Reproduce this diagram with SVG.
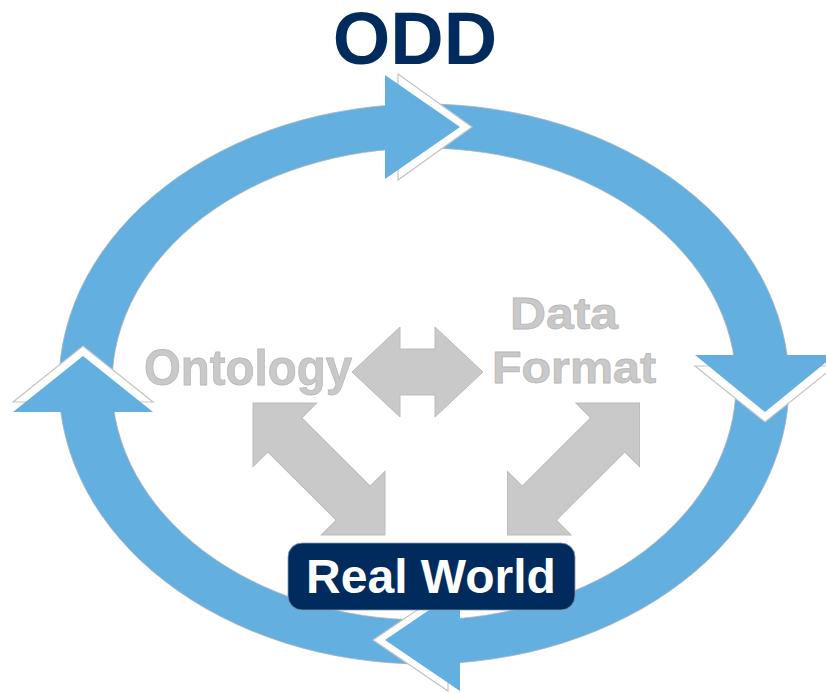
<svg xmlns="http://www.w3.org/2000/svg" width="826" height="693" viewBox="0 0 826 693">
<style>
.ring{fill:#62afe0;fill-rule:evenodd;stroke:#a9b4bd;stroke-width:0.8}
.ghost{fill:#ffffff;stroke:#c4c4c4;stroke-width:1.2}
.head{fill:#62afe0}
.garrow{fill:#c9c9c9;stroke:#bcbcbc;stroke-width:1}
.gtext{font-family:"Liberation Sans",Arial,sans-serif;font-weight:bold;fill:#c9c9c9;stroke:#b8b8b8;stroke-width:0.8}
</style>
<defs>
<path id="dh" d="M-65.5,0 L-17.5,-45 L-17.5,-23 L17.5,-23 L17.5,-45 L65.5,0 L17.5,45 L17.5,23 L-17.5,23 L-17.5,45 Z"/>
<path id="dd" d="M-93.35,0 L-48.35,-45 L-48.35,-24 L48.35,-24 L48.35,-45 L93.35,0 L48.35,45 L48.35,24 L-48.35,24 L-48.35,45 Z"/>
</defs>
<g id="cycle">
<path class="ring" d="M59,384 A365,280 0 1,1 789,384 A365,280 0 1,1 59,384 Z M112,384 A312,236 0 1,0 736,384 A312,236 0 1,0 112,384 Z"/>
<polygon class="ghost" points="398,74 472,127 398,180"/>
<polygon class="ghost" points="695,366 765,422 835,366"/>
<polygon class="ghost" points="448,589 373,640 448,691"/>
<polygon class="ghost" points="13,402 83,346 153,402"/>
<polygon class="head" points="385,75 460,127 385,179"/>
<polygon class="head" points="695,355 765,412 835,355"/>
<polygon class="head" points="460,589 385,640 460,691"/>
<polygon class="head" points="13,412 83,356 153,412"/>
</g>
<g id="title">
<text x="415" y="64" text-anchor="middle" font-family="Liberation Sans, Arial, sans-serif" font-weight="bold" font-size="74" fill="#002b5c">ODD</text>
</g>
<g id="connectors">
<use href="#dh" class="garrow" transform="translate(417.5,372)"/>
<use href="#dd" class="garrow" transform="translate(319,469) rotate(45)"/>
<use href="#dd" class="garrow" transform="translate(573.5,469) rotate(-45)"/>
</g>
<g id="ontology">
<text class="gtext" x="144" y="385" font-size="50" textLength="208" lengthAdjust="spacingAndGlyphs">Ontology</text>
</g>
<g id="dataformat">
<text class="gtext" x="510" y="329" font-size="45" textLength="108" lengthAdjust="spacingAndGlyphs">Data</text>
<text class="gtext" x="492" y="383" font-size="45" textLength="164" lengthAdjust="spacingAndGlyphs">Format</text>
</g>
<g id="realworld">
<rect x="288" y="543" width="287" height="67" rx="14" ry="14" fill="#002b5c" stroke="#8a9bb0" stroke-width="0.8"/>
<text x="431" y="593" text-anchor="middle" font-family="Liberation Sans, Arial, sans-serif" font-weight="bold" font-size="48" fill="#ffffff">Real World</text>
</g>
</svg>
